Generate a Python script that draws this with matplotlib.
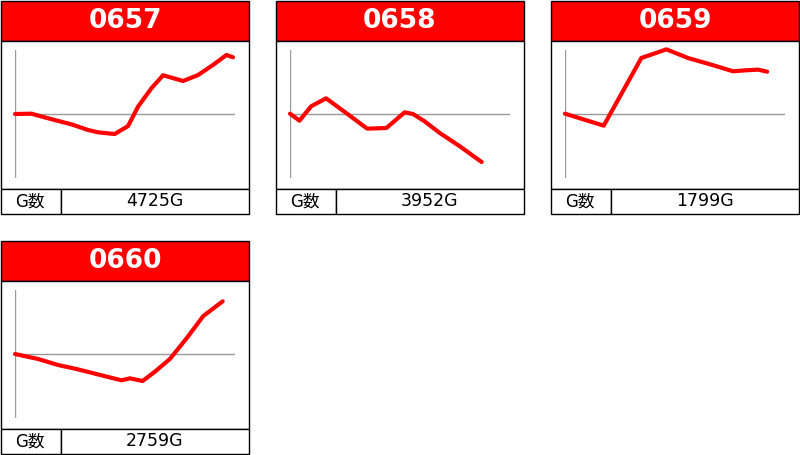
import matplotlib
matplotlib.use("Agg")
import matplotlib.pyplot as plt
from matplotlib.patches import Rectangle

# machine numbers and game counts
machines = ["0657", "0658", "0659", "0660"]
games = ["4725G", "3952G", "1799G", "2759G"]

# slump lines: x = share of the axis width (0-100), y = balance scaled to +-100
x_0657 = [0, 7.5, 11.2, 18, 25.6, 33.2, 37.7, 45.3, 51.4, 55.9, 62, 67.3, 76.4, 83.2, 90, 96.1, 99.1]
y_0657 = [0, 0.5, -3.1, -9.4, -16.1, -25, -28.6, -31.3, -18.8, 11.4, 40.2, 60.5, 51.6, 60.9, 76.6, 92.2, 88.6]

x_0658 = [0, 4.3, 9.6, 16.4, 25.5, 35.1, 43.8, 52.1, 55.9, 61.2, 68.1, 77.2, 87.1]
y_0658 = [0.5, -10.4, 12, 24.5, 1.6, -22.9, -21.9, 2.6, 0, -11.5, -29.7, -50.5, -75]

x_0659 = [0, 17.6, 34.7, 46.1, 55.9, 66.6, 76.4, 81.8, 87.8, 91.9]
y_0659 = [0.5, -18.2, 87.5, 101, 87.5, 77, 66.7, 68.2, 69.3, 66.1]

x_0660 = [0, 10.5, 19.6, 27.9, 37, 48.4, 52.2, 58, 63.6, 70.4, 78, 85.6, 94.4]
y_0660 = [0, -7.8, -17.2, -23.4, -31.3, -41.1, -38, -42.2, -27.6, -7.8, 24.5, 59.4, 82.3]

xs = [x_0657, x_0658, x_0659, x_0660]
ys = [y_0657, y_0658, y_0659, y_0660]

W, H = 800, 455
fig = plt.figure(figsize=(8, 4.55), dpi=100)

# pixel overlay for boxes and texts
bg = fig.add_axes([0, 0, 1, 1])
bg.set_xlim(0, W)
bg.set_ylim(H, 0)
bg.axis("off")

origins = [(0, 0), (275, 0), (550, 0), (0, 240)]


def box(x, y, w, h, color):
    bg.add_patch(Rectangle((x + 0.5, y + 0.5), w, h, facecolor=color,
                           edgecolor="black", lw=1, clip_on=False))


for i, (px, py) in enumerate(origins):
    box(px, py, 248.8, 40, "#ff0000")
    box(px, py + 40, 248.8, 148, "white")
    box(px, py + 188, 60, 25, "white")
    box(px + 60, py + 188, 188.8, 25, "white")
    bg.text(px + 125, py + 21.5, machines[i], color="white", fontsize=19,
            fontweight="bold", family="DejaVu Sans", ha="center", va="center")
    bg.text(px + 30, py + 201.5, "G数", fontsize=12,
            family=["DejaVu Sans", "Noto Sans CJK JP"], ha="center", va="center")
    bg.text(px + 155, py + 201.5, games[i], fontsize=12.5, family="DejaVu Sans",
            ha="center", va="center")

    # chart axes
    ax = fig.add_axes([(px + 15) / W, 1 - (py + 178) / H, 220 / W, 128 / H])
    ax.set_xlim(0, 100)
    ax.set_ylim(-100, 100)
    ax.axis("off")
    ax.plot([0, 0], [-100, 100], color="#999999", lw=1)
    ax.plot([0, 100], [0, 0], color="#999999", lw=1)
    ax.plot(xs[i], ys[i], color="#ff0000", lw=3, solid_joinstyle="round",
            solid_capstyle="round", clip_on=False)

fig.savefig("out.png", dpi=100)
